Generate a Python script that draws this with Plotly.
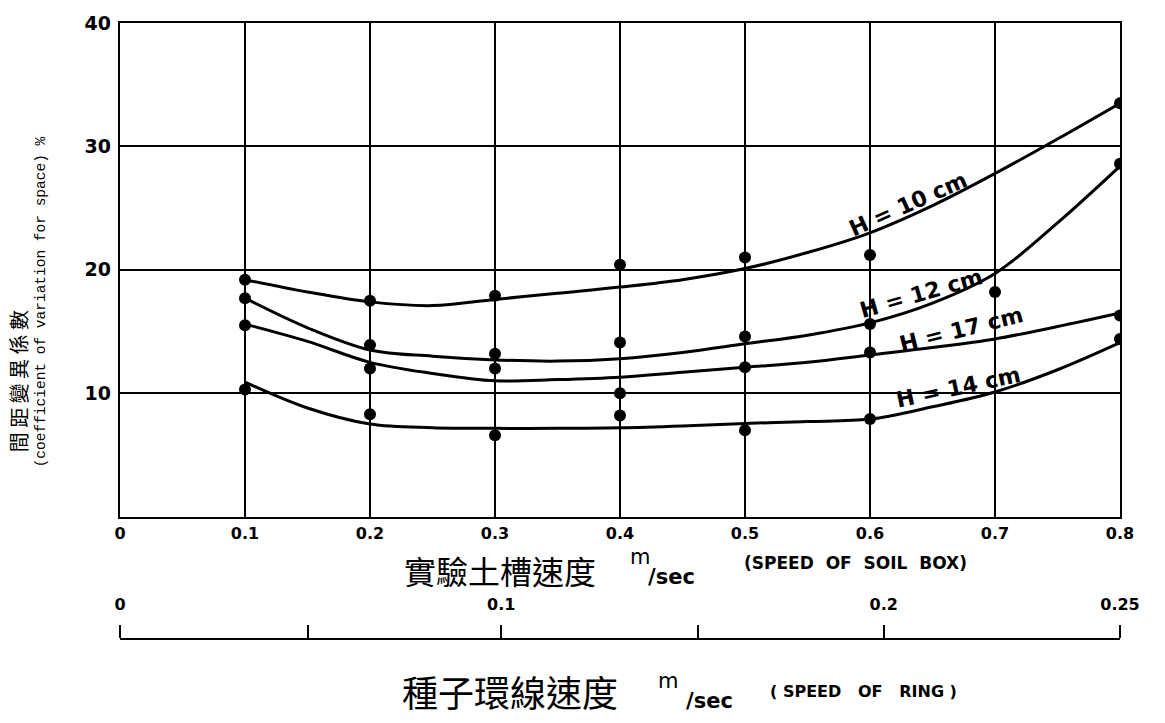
import plotly.graph_objects as go

# ---------------- data ----------------
soil_ticks = [0, 0.1, 0.2, 0.3, 0.4, 0.5, 0.6, 0.7, 0.8]
soil_tick_text = ["0", "0.1", "0.2", "0.3", "0.4", "0.5", "0.6", "0.7", "0.8"]
y_ticks = [10, 20, 30, 40]
y_tick_text = ["10", "20", "30", "40"]

# ring-speed scale (hand drawn, tick positions expressed on the soil-box scale)
ring_tick_text = ["0", "", "0.1", "", "0.2", "0.25"]
ring_tick_pos = [0.0, 0.150, 0.305, 0.462, 0.611, 0.8]

# measured points
pt_x = [0.1, 0.1, 0.1, 0.1,
        0.2, 0.2, 0.2, 0.2,
        0.3, 0.3, 0.3, 0.3,
        0.4, 0.4, 0.4, 0.4,
        0.5, 0.5, 0.5, 0.5,
        0.6, 0.6, 0.6, 0.6,
        0.7,
        0.8, 0.8, 0.8, 0.8]
pt_y = [19.2, 17.7, 15.5, 10.3,
        17.5, 13.9, 12.0, 8.3,
        17.9, 13.2, 12.0, 6.6,
        20.4, 14.1, 10.0, 8.2,
        21.0, 14.6, 12.1, 7.0,
        21.2, 15.6, 13.3, 7.9,
        18.2,
        33.5, 28.6, 16.3, 14.4]

# fitted curves
curve_x = [0.1, 0.15, 0.2, 0.25, 0.3, 0.35, 0.4, 0.45, 0.5, 0.55, 0.6, 0.65, 0.7, 0.75, 0.8]
h10 = [19.2, 18.2, 17.4, 17.1, 17.6, 18.1, 18.6, 19.2, 20.1, 21.4, 23.0, 25.2, 27.8, 30.6, 33.5]
h12 = [17.7, 15.3, 13.5, 13.0, 12.7, 12.6, 12.8, 13.3, 14.0, 14.7, 15.7, 17.3, 19.7, 23.8, 28.4]
h17 = [15.6, 14.2, 12.5, 11.6, 11.0, 11.1, 11.3, 11.7, 12.1, 12.5, 13.1, 13.7, 14.4, 15.4, 16.5]
h14 = [10.9, 8.8, 7.5, 7.2, 7.15, 7.15, 7.2, 7.35, 7.55, 7.7, 7.9, 8.9, 10.1, 11.9, 14.1]

curve_names = ["H=10 cm", "H=12 cm", "H=17 cm", "H=14 cm"]
label_x = [0.63, 0.641, 0.673, 0.67]
label_y = [25.3, 18.1, 15.2, 10.5]
label_angle = [-24, -16, -14, -12]

# ---------------- figure ----------------
W, H = 1165, 723
L, R, T, B = 120, 45, 15, 84
PW, PH = W - L - R, H - T - B
AXIS_Y = 515  # pixel row of soil-box axis


def px(xp):
    return (xp - L) / PW


def py(yp):
    return (H - B - yp) / PH


fig = go.Figure()
for ys in [h10, h12, h17, h14]:
    fig.add_trace(go.Scatter(x=curve_x, y=ys, mode="lines",
                             line=dict(color="black", width=3, shape="spline", smoothing=1.0),
                             showlegend=False, hoverinfo="skip"))
fig.add_trace(go.Scatter(x=pt_x, y=pt_y, mode="markers",
                         marker=dict(color="black", size=12),
                         showlegend=False))
fig.add_trace(go.Scatter(x=ring_tick_pos, y=[None] * len(ring_tick_pos), xaxis="x2",
                         mode="markers", showlegend=False, hoverinfo="skip"))

tickfont = dict(family="DejaVu Sans", size=16, color="black", weight="bold")

fig.update_layout(
    width=W, height=H,
    margin=dict(l=L, r=R, t=T, b=B),
    paper_bgcolor="white", plot_bgcolor="white",
    xaxis=dict(range=[0, 0.8], tickvals=soil_ticks, ticktext=soil_tick_text,
               showgrid=True, gridcolor="black", gridwidth=1.8,
               showline=True, linecolor="black", linewidth=2.4, mirror=True,
               zeroline=False, ticks="", tickfont=tickfont, anchor="y",
               ticklabelstandoff=1),
    yaxis=dict(range=[0, 40], tickvals=y_ticks, ticktext=y_tick_text,
               domain=[(H - B - AXIS_Y) / PH, 1],
               showgrid=True, gridcolor="black", gridwidth=1.8,
               showline=True, linecolor="black", linewidth=2.4, mirror=True,
               zeroline=False, ticks="", tickfont=dict(family="DejaVu Sans", size=19,
                                                       color="black", weight="bold"),
               ticklabelstandoff=3),
    xaxis2=dict(range=[0, 0.8], overlaying="x", anchor="free", position=0, side="top",
                tickvals=ring_tick_pos, ticktext=ring_tick_text,
                showgrid=False, zeroline=False,
                showline=True, linecolor="black", linewidth=2.4,
                ticks="outside", ticklen=13, tickwidth=2.4, tickcolor="black",
                tickfont=tickfont, ticklabelstandoff=8),
)

# curve labels
for name, lx, ly, ang in zip(curve_names, label_x, label_y, label_angle):
    fig.add_annotation(x=lx, y=ly, xref="x", yref="y", text=name.replace("=", " = "),
                       textangle=ang, showarrow=False,
                       font=dict(family="DejaVu Sans", size=22, color="black", weight="bold"))

cjk = "Noto Sans CJK TC"
bold = dict(family="DejaVu Sans", color="black", weight="bold")


def ann(text, xp, yp, font, xanchor="left", angle=0):
    fig.add_annotation(x=px(xp), y=py(yp), xref="paper", yref="paper", text=text,
                       xanchor=xanchor, yanchor="middle", showarrow=False,
                       textangle=angle, font=font)


# soil-box axis title
ann("實驗土槽速度", 402, 569, dict(family=cjk, size=32, color="black"))
ann("m", 628, 556, dict(bold, size=21, weight="normal"))
ann("/sec", 646, 576, dict(bold, size=21))
ann("(SPEED  OF  SOIL  BOX)", 742, 562, dict(bold, size=17))

# ring-speed axis title
ann("種子環線速度", 400, 692, dict(family=cjk, size=36, color="black"))
ann("m", 656, 682, dict(bold, size=21, weight="normal"))
ann("/sec", 684, 702, dict(bold, size=21))
ann("( SPEED   OF   RING )", 768, 692, dict(bold, size=16))

# y-axis title
ann("間 距 變 異 係 數", 18, 378, dict(family=cjk, size=20, color="black"), xanchor="center", angle=-90)
ann("(coefficient of variation for space) %", 41, 298,
    dict(family="Liberation Mono", size=14.5, color="black"), xanchor="center", angle=-90)

fig.write_html("out.html")
